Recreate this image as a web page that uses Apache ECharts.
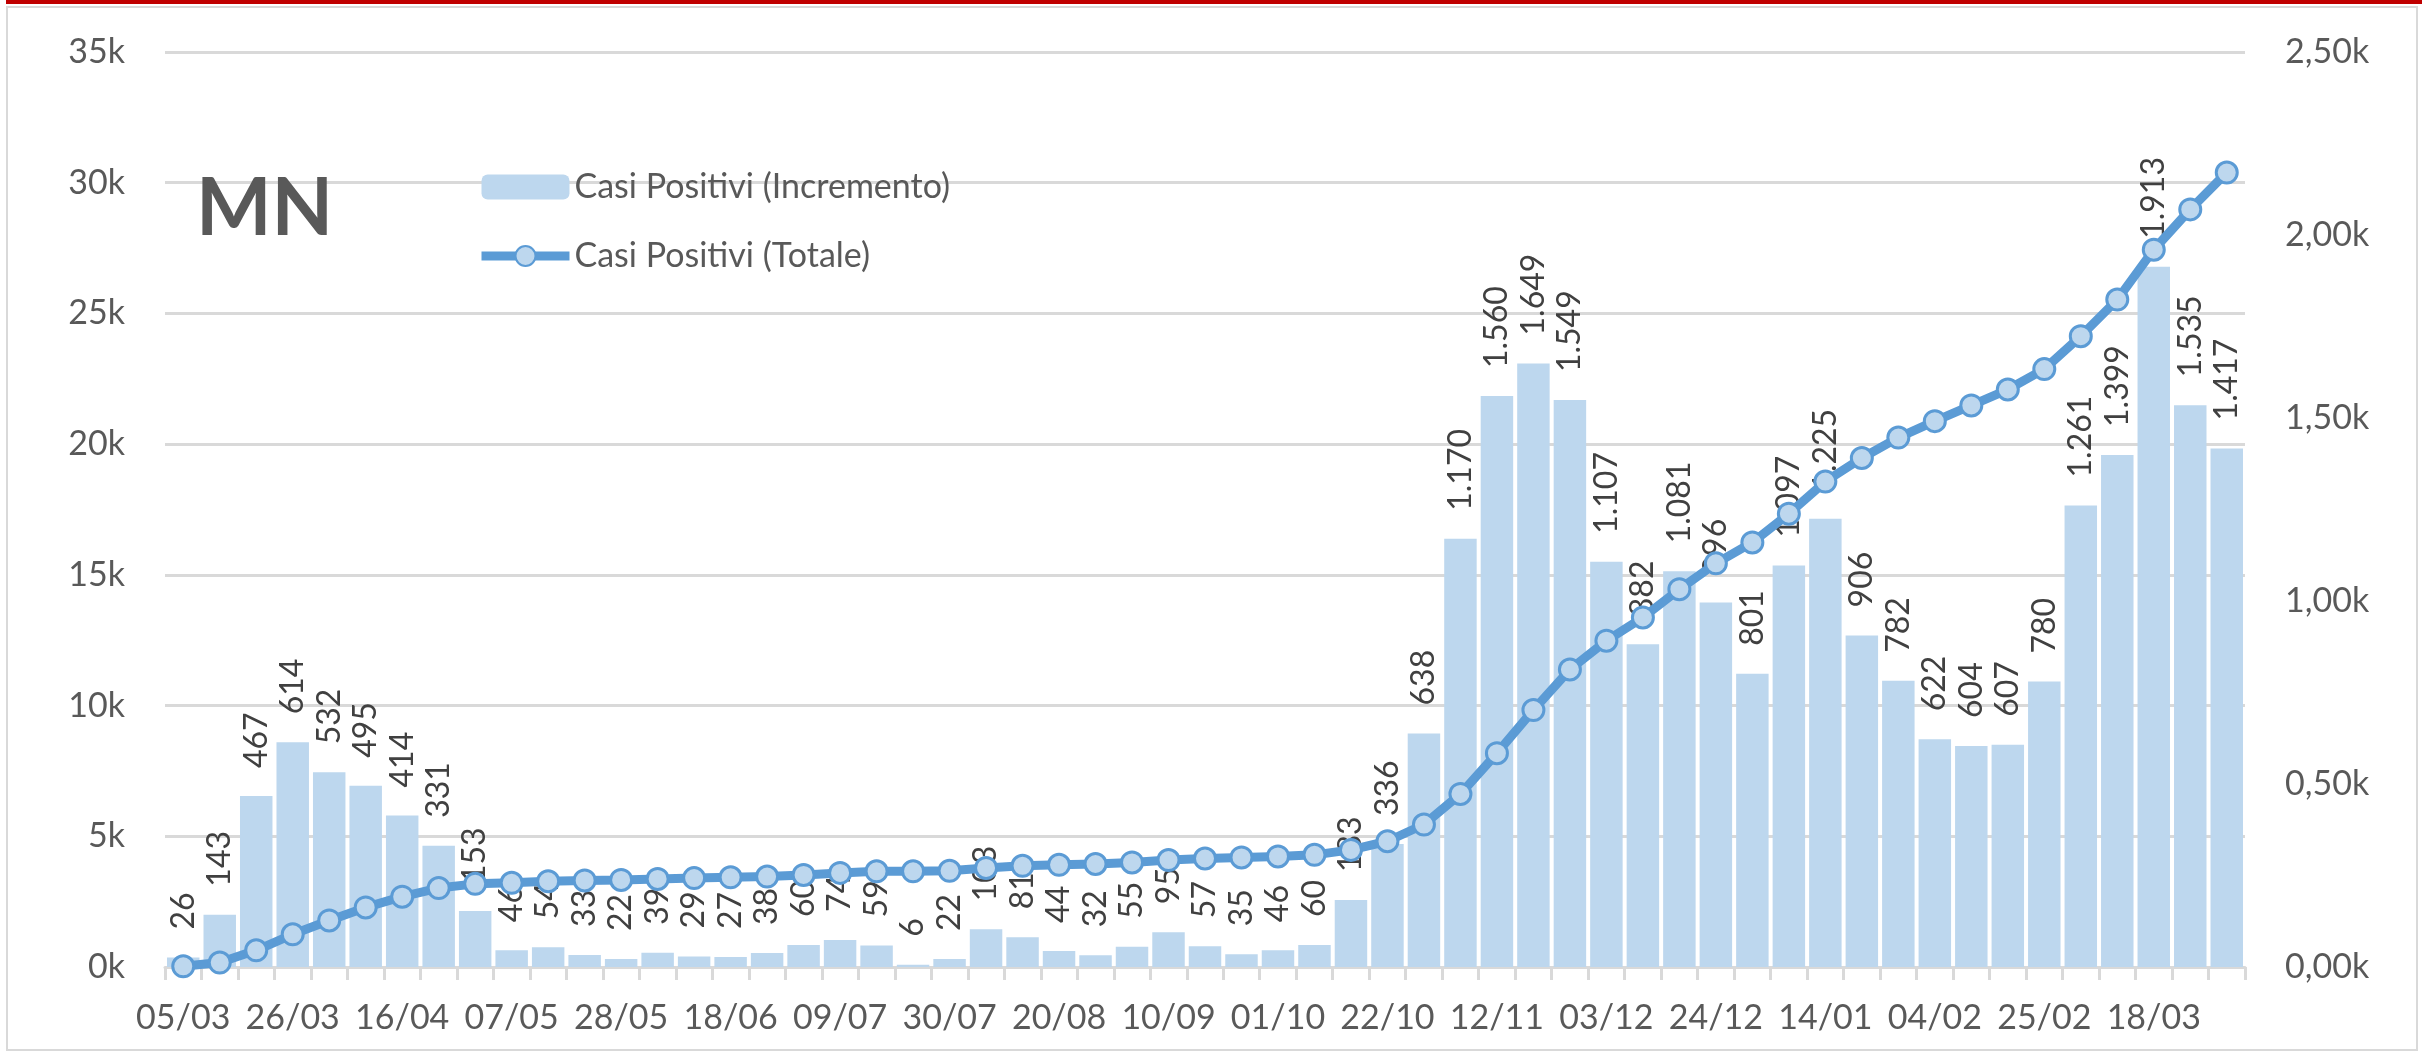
<!DOCTYPE html>
<html>
<head>
<meta charset="utf-8">
<title>MN - Casi Positivi</title>
<script src="https://cdn.jsdelivr.net/npm/echarts@6/dist/echarts.min.js"></script>
<style>
  html, body { margin: 0; padding: 0; background: #fff; }
  #chart { width: 2430px; height: 1052px; }
</style>
</head>
<body>
<div id="chart"></div>
<script>
// settimane (giovedì), 05/03/2020 -> 01/04/2021
const weeks = [
  '05/03', '12/03', '19/03', '26/03', '02/04', '09/04', '16/04', '23/04', '30/04', '07/05',
  '14/05', '21/05', '28/05', '04/06', '11/06', '18/06', '25/06', '02/07', '09/07', '16/07',
  '23/07', '30/07', '06/08', '13/08', '20/08', '27/08', '03/09', '10/09', '17/09', '24/09',
  '01/10', '08/10', '15/10', '22/10', '29/10', '05/11', '12/11', '19/11', '26/11', '03/12',
  '10/12', '17/12', '24/12', '31/12', '07/01', '14/01', '21/01', '28/01', '04/02', '11/02',
  '18/02', '25/02', '04/03', '11/03', '18/03', '25/03', '01/04'
];

// Casi Positivi (Incremento) - asse destro
const incremento = [
  26, 143, 467, 614, 532, 495, 414, 331, 153, 46,
  54, 33, 22, 39, 29, 27, 38, 60, 74, 59,
  6, 22, 103, 81, 44, 32, 55, 95, 57, 35,
  46, 60, 183, 336, 638, 1170, 1560, 1649, 1549, 1107,
  882, 1081, 996, 801, 1097, 1225, 906, 782, 622, 604,
  607, 780, 1261, 1399, 1913, 1535, 1417
];

// Casi Positivi (Totale) - asse sinistro
const totale = [
  26, 170, 640, 1250, 1780, 2280, 2690, 3020, 3180, 3220,
  3280, 3310, 3330, 3370, 3400, 3430, 3460, 3520, 3600, 3660,
  3660, 3680, 3790, 3870, 3910, 3940, 4000, 4090, 4150, 4190,
  4230, 4290, 4480, 4810, 5450, 6620, 8180, 9830, 11380, 12480,
  13370, 14450, 15440, 16240, 17340, 18570, 19470, 20250, 20880, 21480,
  22090, 22870, 24130, 25530, 27440, 28980, 30390
];

const FONT = 'Lato, "Open Sans", sans-serif';
const GRID_COLOR = '#d9d9d9';
const TEXT_COLOR = '#595959';

// 1170 -> "1.170"
const fmtIt = (v) => {
  if (v < 1000) return String(v);
  return Math.floor(v / 1000) + '.' + String(v % 1000).padStart(3, '0');
};

const chart = echarts.init(document.getElementById('chart'));

const option = {
  animation: false,
  backgroundColor: '#fff',
  textStyle: { fontFamily: FONT },
  graphic: [
    {
      type: 'rect',
      shape: { x: 7, y: 7, width: 2410, height: 1043 },
      style: { fill: 'none', stroke: GRID_COLOR, lineWidth: 2 },
      silent: true
    },
    {
      type: 'rect',
      shape: { x: 6, y: 0, width: 2416, height: 4 },
      style: { fill: '#C00000' },
      silent: true
    }
  ],
  title: {
    text: 'MN',
    left: 191,
    top: 164,
    textStyle: { fontSize: 80, fontWeight: 'bold', color: TEXT_COLOR, fontFamily: FONT }
  },
  legend: {
    orient: 'vertical',
    left: 472,
    top: 165,
    itemWidth: 88,
    itemHeight: 25,
    itemGap: 35,
    lineStyle: { width: 9 },
    textStyle: { fontSize: 34, color: TEXT_COLOR, fontFamily: FONT },
    data: ['Casi Positivi (Incremento)', 'Casi Positivi (Totale)']
  },
  grid: { left: 165, right: 185, top: 52, bottom: 85 },
  xAxis: {
    type: 'category',
    data: weeks,
    boundaryGap: true,
    axisLine: { lineStyle: { color: GRID_COLOR, width: 3 } },
    axisTick: { show: true, interval: 0, length: 13, lineStyle: { color: GRID_COLOR, width: 3 } },
    axisLabel: { interval: 2, color: TEXT_COLOR, fontSize: 34, margin: 34, fontFamily: FONT }
  },
  yAxis: [
    {
      type: 'value',
      position: 'left',
      min: 0,
      max: 35000,
      interval: 5000,
      axisLine: { show: false },
      axisTick: { show: false },
      splitLine: { lineStyle: { color: GRID_COLOR, width: 3 } },
      axisLabel: {
        color: TEXT_COLOR, fontSize: 34, margin: 40, fontFamily: FONT,
        formatter: (v) => (v / 1000) + 'k'
      }
    },
    {
      type: 'value',
      position: 'right',
      min: 0,
      max: 2500,
      interval: 500,
      axisLine: { show: false },
      axisTick: { show: false },
      splitLine: { show: false },
      axisLabel: {
        color: TEXT_COLOR, fontSize: 34, margin: 40, fontFamily: FONT,
        formatter: (v) => (v / 1000).toFixed(2).replace('.', ',') + 'k'
      }
    }
  ],
  series: [
    {
      name: 'Casi Positivi (Incremento)',
      type: 'bar',
      yAxisIndex: 1,
      data: incremento,
      barCategoryGap: '11%',
      itemStyle: { color: '#BDD7EE' },
      label: {
        show: true,
        position: 'top',
        rotate: 90,
        align: 'left',
        verticalAlign: 'middle',
        distance: 28,
        fontSize: 32,
        color: '#404040',
        fontFamily: FONT,
        formatter: (p) => fmtIt(p.value)
      },
      z: 2
    },
    {
      name: 'Casi Positivi (Totale)',
      type: 'line',
      yAxisIndex: 0,
      data: totale,
      symbol: 'circle',
      symbolSize: 21,
      lineStyle: { color: '#5B9BD5', width: 9 },
      itemStyle: { color: '#BDD7EE', borderColor: '#5B9BD5', borderWidth: 3 },
      z: 5
    }
  ]
};

chart.setOption(option);
</script>
</body>
</html>
